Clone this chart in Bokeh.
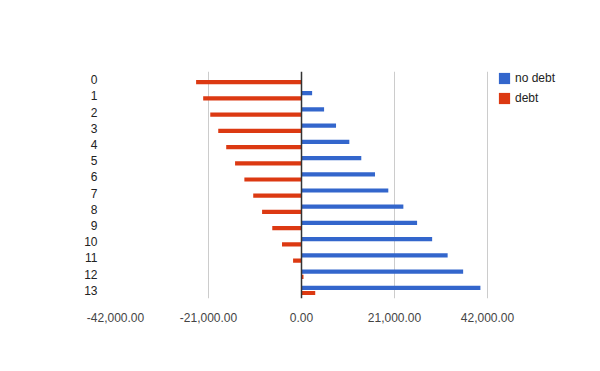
from bokeh.plotting import figure
from bokeh.models import (ColumnDataSource, Range1d, FixedTicker, NumeralTickFormatter,
                          Span, Legend, LegendItem)
from bokeh.embed import file_html
from bokeh.resources import INLINE

categories = ["0", "1", "2", "3", "4", "5", "6", "7", "8", "9", "10", "11", "12", "13"]
no_debt = [0, 2400, 5100, 7800, 10800, 13500, 16600, 19600, 23000, 26100, 29500, 33000, 36500, 40400]
debt = [-23800, -22200, -20600, -18800, -17000, -15000, -12900, -10900, -8900, -6600, -4400, -1900, 450, 3100]
x_ticks = [-42000, -21000, 0, 21000, 42000]

BLUE = "#3366cc"
RED = "#dc3912"
FONT = "Liberation Sans"

pos = list(range(len(categories)))
src = ColumnDataSource(dict(
    y_nd=[p - 0.16 for p in pos],
    y_d=[p + 0.16 for p in pos],
    nd=no_debt,
    d=debt,
    zero=[0] * len(pos),
))

# frame extends to the right to host the legend; the axis span ends at 42,000
FRAME_L, AXIS_R, FRAME_R = 115, 487, 576
x_end = x_ticks[-1] + (FRAME_R - AXIS_R) * (x_ticks[-1] - x_ticks[0]) / (AXIS_R - FRAME_L)

p = figure(width=584, height=355, output_backend="svg", toolbar_location=None,
           x_range=Range1d(x_ticks[0], x_end), y_range=Range1d(13.5, -0.5),
           min_border_left=FRAME_L, min_border_right=584 - FRAME_R,
           min_border_top=71, min_border_bottom=57)
p.outline_line_color = None
p.ygrid.visible = False
p.xgrid.ticker = FixedTicker(ticks=[t for t in x_ticks if t != 0])
p.xgrid.grid_line_color = "#cccccc"

r_nd = p.hbar(y="y_nd", height=0.26, left="zero", right="nd", source=src,
              fill_color=BLUE, line_color=None)
r_d = p.hbar(y="y_d", height=0.26, left="zero", right="d", source=src,
             fill_color=RED, line_color=None)

p.add_layout(Span(location=0, dimension="height", line_color="#333333", line_width=1.5))

xa = p.xaxis[0]
xa.ticker = FixedTicker(ticks=x_ticks)
xa.formatter = NumeralTickFormatter(format="0,0.00")
xa.axis_line_color = None
xa.major_tick_line_color = None
xa.minor_tick_line_color = None
xa.major_label_standoff = 8
xa.major_label_text_font = FONT
xa.major_label_text_font_size = "12px"
xa.major_label_text_color = "#444444"

ya = p.yaxis[0]
ya.ticker = FixedTicker(ticks=pos)
ya.major_label_overrides = {i: c for i, c in zip(pos, categories)}
ya.axis_line_color = None
ya.major_tick_line_color = None
ya.minor_tick_line_color = None
ya.major_label_standoff = 12
ya.major_label_text_font = FONT
ya.major_label_text_font_size = "12px"
ya.major_label_text_color = "#222222"

legend = Legend(items=[LegendItem(label="no debt", renderers=[r_nd]),
                       LegendItem(label="debt", renderers=[r_d])],
                location=(382, 193), glyph_width=14, glyph_height=14, label_height=14,
                spacing=6, label_standoff=4, padding=0, margin=0,
                border_line_color=None, background_fill_alpha=0,
                label_text_font=FONT, label_text_font_size="12px", label_text_color="#222222")
p.add_layout(legend)

open("out.html", "w").write(file_html(p, INLINE))
